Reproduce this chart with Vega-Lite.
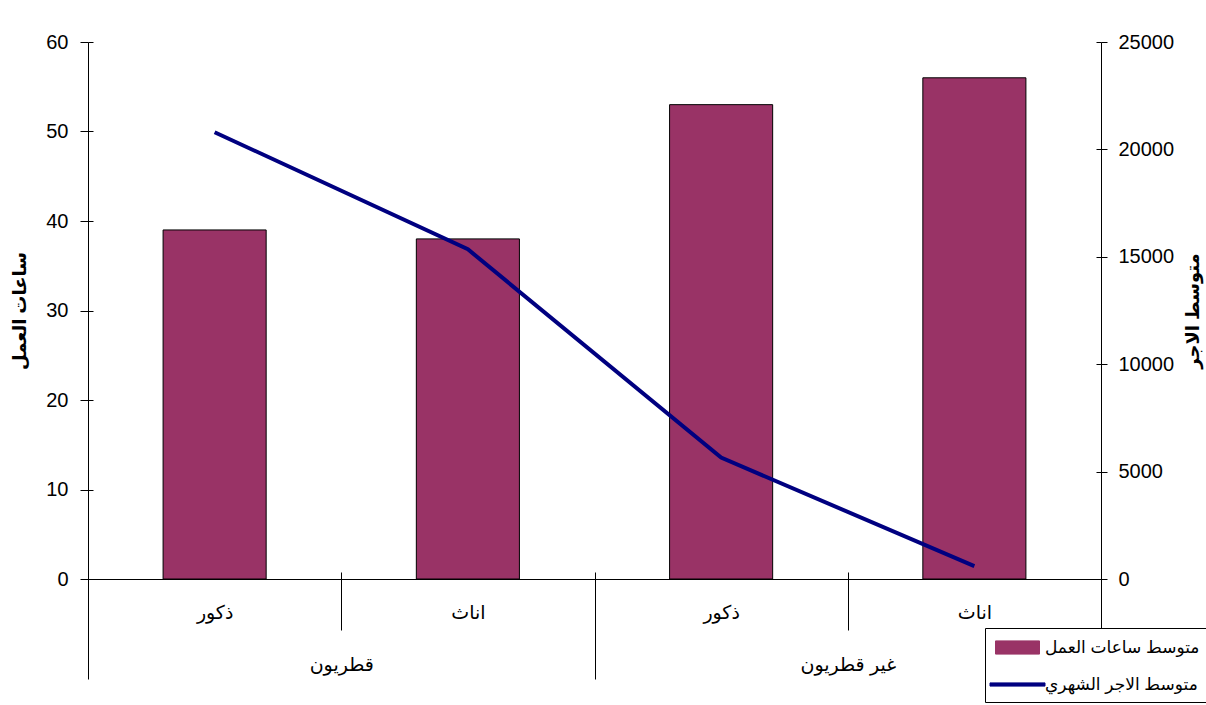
{
  "$schema": "https://vega.github.io/schema/vega-lite/v6.json",
  "width": 1013,
  "height": 537,
  "autosize": {"type": "none"},
  "padding": {"left": 88, "top": 42, "right": 105, "bottom": 126},
  "background": "white",
  "config": {
    "font": "Liberation Sans, DejaVu Sans, sans-serif",
    "view": {"stroke": null},
    "axis": {
      "labelFont": "Liberation Sans, DejaVu Sans, sans-serif",
      "titleFont": "Liberation Sans, DejaVu Sans, sans-serif",
      "labelColor": "black",
      "tickColor": "black",
      "domainColor": "black",
      "titleColor": "black",
      "labelFontSize": 20,
      "titleFontSize": 18,
      "titleFontWeight": "bold",
      "tickWidth": 1,
      "domainWidth": 1
    }
  },
  "data": {
    "values": [
      {"nat": "قطريون", "sex": "ذكور", "key": "قطريون|ذكور", "hours": 39, "wage": 20800},
      {"nat": "قطريون", "sex": "اناث", "key": "قطريون|اناث", "hours": 38, "wage": 15350},
      {"nat": "غير قطريون", "sex": "ذكور", "key": "غير قطريون|ذكور", "hours": 53, "wage": 5650},
      {"nat": "غير قطريون", "sex": "اناث", "key": "غير قطريون|اناث", "hours": 56, "wage": 600}
    ]
  },
  "layer": [
    {
      "layer": [
        {
          "mark": {"type": "bar", "stroke": "black", "strokeWidth": 1, "width": {"band": 0.407}},
          "encoding": {
            "x": {
              "field": "key", "type": "nominal", "sort": null,
              "scale": {"paddingInner": 0, "paddingOuter": 0},
              "axis": {
                "title": null, "orient": "bottom", "labelAngle": 0,
                "labelExpr": "split(datum.label, '|')[1]",
                "tickBand": "extent", "tickSize": 51, "labelPadding": -27,
                "labelFontSize": 19,
                "grid": true, "gridDash": [7, 530], "gridDashOffset": 7, "gridColor": "black", "gridOpacity": 1, "gridWidth": 1,
                "domain": true
              }
            },
            "y": {
              "field": "hours", "type": "quantitative",
              "scale": {"domain": [0, 60], "nice": false},
              "axis": {
                "orient": "left", "title": "ساعات العمل",
                "values": [0, 10, 20, 30, 40, 50, 60],
                "tickSize": 8, "labelPadding": 12, "titlePadding": 16,
                "grid": true, "gridDash": [5, 3000], "gridColor": "black", "gridOpacity": 1, "gridWidth": 1
              }
            },
            "color": {
              "datum": "متوسط ساعات العمل", "type": "nominal",
              "scale": {"domain": ["متوسط ساعات العمل", "متوسط الاجر الشهري"], "range": ["#993366", "#000080"]},
              "legend": {
                "title": null, "orient": "none", "legendX": 897, "legendY": 586,
                "fillColor": "white", "strokeColor": "black", "padding": 9, "rowPadding": 17,
                "symbolSize": 400, "symbolStrokeWidth": 1, "symbolOffset": 13, "labelOffset": 17,
                "symbolType": {"expr": "datum.value === 'متوسط ساعات العمل' ? 'M-2.2,-0.66H2.2V0.66H-2.2Z' : 'M-2.75,-0.16H2.75V0.16H-2.75Z'"},
                "labelFontSize": 17, "labelFont": "Liberation Sans, DejaVu Sans, sans-serif", "labelColor": "black", "labelLimit": 300,
                "encode": {
                  "legend": {"strokeWidth": {"value": 2}},
                  "symbols": {
                    "stroke": {"value": {"expr": "datum.value === 'متوسط ساعات العمل' ? 'black' : '#000080'"}},
                    "opacity": {"value": 1}
                  }
                }
              }
            }
          }
        },
        {
          "mark": {"type": "line", "strokeWidth": 4},
          "encoding": {
            "x": {"field": "key", "type": "nominal", "sort": null},
            "y": {
              "field": "wage", "type": "quantitative",
              "scale": {"domain": [0, 25000], "nice": false},
              "axis": {
                "orient": "right", "title": "متوسط الاجر", "titleAngle": -90,
                "values": [0, 5000, 10000, 15000, 20000, 25000], "format": "d",
                "tickSize": 6, "labelPadding": 11, "titlePadding": 29,
                "grid": true, "gridDash": [5, 3000], "gridColor": "black", "gridOpacity": 1, "gridWidth": 1
              }
            },
            "color": {"datum": "متوسط الاجر الشهري", "type": "nominal"}
          }
        }
      ],
      "resolve": {"scale": {"y": "independent"}}
    },
    {
      "mark": {"type": "rule", "opacity": 0},
      "encoding": {
        "x": {
          "field": "nat", "type": "nominal", "sort": null,
          "scale": {"paddingInner": 0, "paddingOuter": 0},
          "axis": {
            "orient": "bottom", "title": null, "labelAngle": 0,
            "tickBand": "extent", "tickSize": 100, "labelPadding": -24,
            "domain": false, "labelFontSize": 19, "grid": false
          }
        }
      }
    }
  ],
  "resolve": {"scale": {"x": "independent"}}
}
